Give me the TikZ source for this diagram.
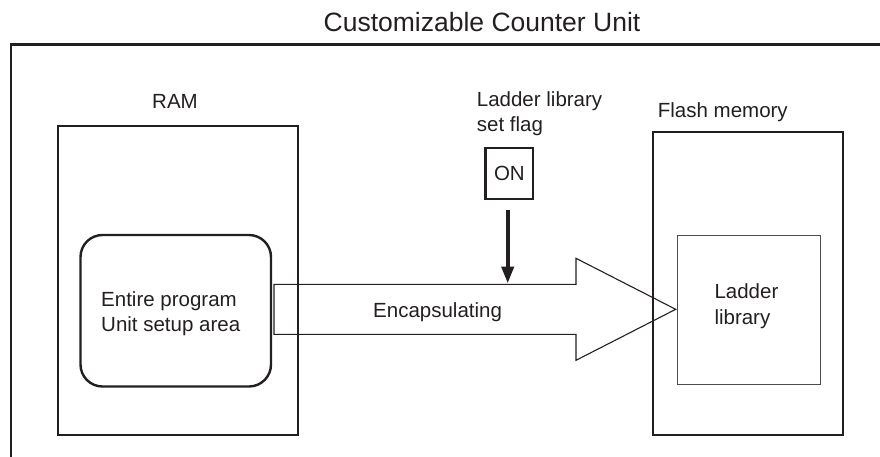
\documentclass[tikz,border=0pt]{standalone}
\usepackage{fontspec}
\setmainfont{Liberation Sans}
\usetikzlibrary{arrows.meta}
\definecolor{ink}{HTML}{231F20}
\begin{document}
\begin{tikzpicture}[x=1pt,y=-1pt,
  txt/.style={inner sep=0pt, text=ink, font=\fontsize{20.5}{25.6}\selectfont, align=left},
  bigbox/.style={draw=ink, line width=2.2pt},
  thinbox/.style={draw=ink!80, line width=1pt},
  flow/.style={draw=ink, line width=1.1pt}]
\useasboundingbox (0,0) rectangle (880,456);
% outer unit frame (extends beyond picture)
\draw[bigbox] (11,470) -- (11,44.5) -- (895,44.5);
\node[txt, font=\fontsize{26.5}{30}\selectfont, anchor=base] (title) at (482,31) {Customizable Counter Unit};
% RAM
\node[txt, anchor=base] (ramlbl) at (175,108) {RAM};
\draw[bigbox] (58,126) rectangle (298,435);
\node[draw=ink, line width=2.4pt, rounded corners=22pt, minimum width=190.5pt, minimum height=151.5pt] (prog) at (175.75,310.75) {};
\node[txt, anchor=base west] (progtxt) at (101,331.7) {Entire program\\Unit setup area};
% Flash memory
\node[txt, anchor=base west] (flashlbl) at (657.7,117.7) {Flash memory};
\draw[bigbox] (653,131.7) rectangle (843,435);
\node[thinbox, minimum width=143pt, minimum height=149pt] (lib) at (749.2,309.5) {};
\node[txt, anchor=base west] (libtxt) at (714.3,324) {Ladder\\library};
% set flag
\node[txt, anchor=base west] (flaglbl) at (476.7,131.7) {Ladder library\\set flag};
\node[draw=ink, line width=2.2pt, minimum width=47.8pt, minimum height=50.7pt, inner sep=0pt] (on) at (509.4,173.7) {};
\node[txt, anchor=base] (ontxt) at (509.4,180) {ON};
% encapsulating arrow
\coordinate (tip) at (675.7,309.3);
\draw[flow] (274,284.3) -- (576,284.3) -- (576,258.3) -- (tip) -- (576,360.3) -- (576,334.3) -- (274,334.3) -- cycle;
\node[txt, anchor=base west] (enc) at (373,317) {Encapsulating};
% flag arrow
\coordinate (hit) at (507.7,283.5);
\draw[draw=ink, line width=4pt, -{Triangle[width=12pt,length=17pt]}] ([xshift=-1.7pt,yshift=-10pt]on.south) -- (hit);
\end{tikzpicture}
\end{document}
